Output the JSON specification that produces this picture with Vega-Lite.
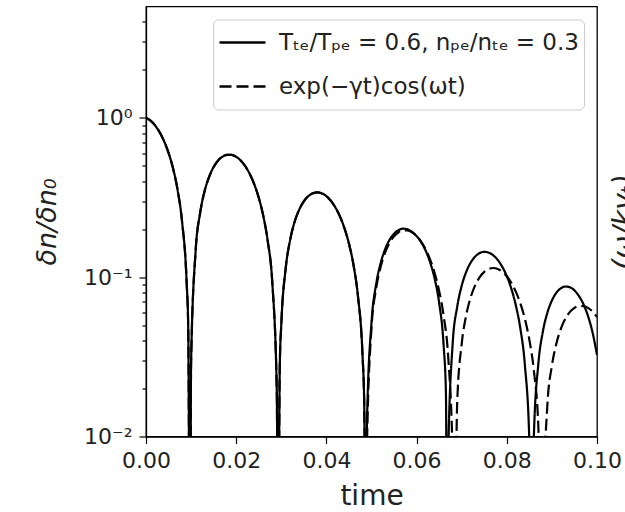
{
  "$schema": "https://vega.github.io/schema/vega-lite/v6.json",
  "width": 451,
  "height": 430,
  "autosize": "none",
  "padding": {"left": 146, "top": 6.5, "right": 28, "bottom": 75.5},
  "background": "white",
  "config": {
    "view": {"stroke": "black", "strokeWidth": 1.3},
    "font": "DejaVu Sans",
    "axis": {"domainColor": "black", "domainWidth": 1.3, "tickColor": "black", "tickWidth": 1.2, "labelColor": "#222", "titleColor": "#222", "labelFont": "DejaVu Sans", "titleFont": "DejaVu Sans", "grid": false, "titleFontWeight": "normal"}
  },
  "data": {"values": [
    {"s":"d","t":0,"v":1},{"s":"d","t":0.001,"v":0.9598},{"s":"d","t":0.002,"v":0.8969},{"s":"d","t":0.003,"v":0.8142},{"s":"d","t":0.004,"v":0.7149},{"s":"d","t":0.005,"v":0.6026},{"s":"d","t":0.006,"v":0.4814},{"s":"d","t":0.007,"v":0.3534},{"s":"d","t":0.008,"v":0.2228},{"s":"d","t":0.009,"v":0.0944},{"s":"d","t":0.00936,"v":0.049},{"s":"d","t":0.00976,"v":0.001},{"s":"d","t":0.010,"v":0.0296},{"s":"d","t":0.011,"v":0.146},{"s":"d","t":0.012,"v":0.2527},{"s":"d","t":0.013,"v":0.3474},{"s":"d","t":0.014,"v":0.4266},{"s":"d","t":0.015,"v":0.4918},{"s":"d","t":0.016,"v":0.5406},{"s":"d","t":0.017,"v":0.5716},{"s":"d","t":0.018,"v":0.5863},{"s":"d","t":0.019,"v":0.5854},{"s":"d","t":0.020,"v":0.5694},{"s":"d","t":0.021,"v":0.5396},{"s":"d","t":0.022,"v":0.4974},{"s":"d","t":0.023,"v":0.4446},{"s":"d","t":0.024,"v":0.3831},{"s":"d","t":0.025,"v":0.3151},{"s":"d","t":0.026,"v":0.2428},{"s":"d","t":0.027,"v":0.1679},{"s":"d","t":0.028,"v":0.0928},{"s":"d","t":0.029,"v":0.0193},{"s":"d","t":0.02927,"v":0.001},{"s":"d","t":0.02967,"v":0.0284},{"s":"d","t":0.030,"v":0.0506},{"s":"d","t":0.031,"v":0.1153},{"s":"d","t":0.032,"v":0.1737},{"s":"d","t":0.033,"v":0.2247},{"s":"d","t":0.034,"v":0.2665},{"s":"d","t":0.035,"v":0.2996},{"s":"d","t":0.036,"v":0.3225},{"s":"d","t":0.037,"v":0.3362},{"s":"d","t":0.038,"v":0.3404},{"s":"d","t":0.039,"v":0.3355},{"s":"d","t":0.040,"v":0.3223},{"s":"d","t":0.041,"v":0.3014},{"s":"d","t":0.042,"v":0.2738},{"s":"d","t":0.043,"v":0.2407},{"s":"d","t":0.044,"v":0.2031},{"s":"d","t":0.045,"v":0.1624},{"s":"d","t":0.046,"v":0.1196},{"s":"d","t":0.047,"v":0.0759},{"s":"d","t":0.048,"v":0.0328},{"s":"d","t":0.04838,"v":0.0164},{"s":"d","t":0.04878,"v":0.001},{"s":"d","t":0.049,"v":0.0089},{"s":"d","t":0.050,"v":0.048},{"s":"d","t":0.051,"v":0.0838},{"s":"d","t":0.052,"v":0.1153},{"s":"d","t":0.053,"v":0.1424},{"s":"d","t":0.054,"v":0.1643},{"s":"d","t":0.055,"v":0.1809},{"s":"d","t":0.056,"v":0.1914},{"s":"d","t":0.057,"v":0.1965},{"s":"d","t":0.058,"v":0.1964},{"s":"d","t":0.059,"v":0.1911},{"s":"d","t":0.060,"v":0.1813},{"s":"d","t":0.061,"v":0.1672},{"s":"d","t":0.062,"v":0.1496},{"s":"d","t":0.063,"v":0.129},{"s":"d","t":0.064,"v":0.1063},{"s":"d","t":0.065,"v":0.082},{"s":"d","t":0.066,"v":0.057},{"s":"d","t":0.067,"v":0.0318},{"s":"d","t":0.068,"v":0.0071},{"s":"d","t":0.0683,"v":0.001},{"s":"d","t":0.069,"v":0.0164},{"s":"d","t":0.070,"v":0.0381},{"s":"d","t":0.071,"v":0.0578},{"s":"d","t":0.072,"v":0.0749},{"s":"d","t":0.073,"v":0.0891},{"s":"d","t":0.074,"v":0.1002},{"s":"d","t":0.075,"v":0.108},{"s":"d","t":0.076,"v":0.1128},{"s":"d","t":0.077,"v":0.1142},{"s":"d","t":0.078,"v":0.1127},{"s":"d","t":0.079,"v":0.1083},{"s":"d","t":0.080,"v":0.1013},{"s":"d","t":0.081,"v":0.0922},{"s":"d","t":0.082,"v":0.0811},{"s":"d","t":0.083,"v":0.0685},{"s":"d","t":0.084,"v":0.0549},{"s":"d","t":0.085,"v":0.0405},{"s":"d","t":0.086,"v":0.0259},{"s":"d","t":0.087,"v":0.0114},{"s":"d","t":0.0878,"v":0.001},{"s":"d","t":0.088,"v":0.0026},{"s":"d","t":0.089,"v":0.0158},{"s":"d","t":0.090,"v":0.0278},{"s":"d","t":0.091,"v":0.0384},{"s":"d","t":0.092,"v":0.0476},{"s":"d","t":0.093,"v":0.055},{"s":"d","t":0.094,"v":0.0606},{"s":"d","t":0.095,"v":0.0642},{"s":"d","t":0.096,"v":0.0659},{"s":"d","t":0.097,"v":0.0659},{"s":"d","t":0.098,"v":0.0642},{"s":"d","t":0.099,"v":0.0609},{"s":"d","t":0.100,"v":0.0562},
    {"s":"s","t":0,"v":1},{"s":"s","t":0.001,"v":0.9598},{"s":"s","t":0.002,"v":0.8969},{"s":"s","t":0.003,"v":0.8142},{"s":"s","t":0.004,"v":0.7149},{"s":"s","t":0.005,"v":0.6026},{"s":"s","t":0.006,"v":0.4814},{"s":"s","t":0.007,"v":0.3534},{"s":"s","t":0.008,"v":0.2228},{"s":"s","t":0.009,"v":0.0944},{"s":"s","t":0.00936,"v":0.049},{"s":"s","t":0.00976,"v":0.001},{"s":"s","t":0.010,"v":0.0296},{"s":"s","t":0.011,"v":0.146},{"s":"s","t":0.012,"v":0.2527},{"s":"s","t":0.013,"v":0.3474},{"s":"s","t":0.014,"v":0.4266},{"s":"s","t":0.015,"v":0.4918},{"s":"s","t":0.016,"v":0.5406},{"s":"s","t":0.017,"v":0.5716},{"s":"s","t":0.018,"v":0.5863},{"s":"s","t":0.019,"v":0.5854},{"s":"s","t":0.020,"v":0.5694},{"s":"s","t":0.021,"v":0.5396},{"s":"s","t":0.022,"v":0.4974},{"s":"s","t":0.023,"v":0.4446},{"s":"s","t":0.024,"v":0.3831},{"s":"s","t":0.025,"v":0.3151},{"s":"s","t":0.026,"v":0.2428},{"s":"s","t":0.027,"v":0.1679},{"s":"s","t":0.028,"v":0.0928},{"s":"s","t":0.029,"v":0.0193},{"s":"s","t":0.02927,"v":0.001},{"s":"s","t":0.02967,"v":0.0284},{"s":"s","t":0.030,"v":0.0506},{"s":"s","t":0.031,"v":0.1153},{"s":"s","t":0.032,"v":0.1737},{"s":"s","t":0.033,"v":0.2247},{"s":"s","t":0.034,"v":0.2665},{"s":"s","t":0.035,"v":0.2996},{"s":"s","t":0.036,"v":0.3225},{"s":"s","t":0.037,"v":0.3362},{"s":"s","t":0.038,"v":0.3404},{"s":"s","t":0.039,"v":0.3355},{"s":"s","t":0.040,"v":0.3223},{"s":"s","t":0.041,"v":0.3014},{"s":"s","t":0.042,"v":0.2738},{"s":"s","t":0.043,"v":0.2407},{"s":"s","t":0.044,"v":0.2031},{"s":"s","t":0.045,"v":0.1624},{"s":"s","t":0.046,"v":0.1196},{"s":"s","t":0.047,"v":0.0759},{"s":"s","t":0.048,"v":0.0328},{"s":"s","t":0.04838,"v":0.0164},{"s":"s","t":0.04878,"v":0.001},{"s":"s","t":0.049,"v":0.0125},{"s":"s","t":0.050,"v":0.052},{"s":"s","t":0.051,"v":0.0895},{"s":"s","t":0.052,"v":0.1215},{"s":"s","t":0.053,"v":0.1495},{"s":"s","t":0.054,"v":0.1715},{"s":"s","t":0.055,"v":0.1875},{"s":"s","t":0.056,"v":0.1975},{"s":"s","t":0.057,"v":0.2015},{"s":"s","t":0.058,"v":0.1995},{"s":"s","t":0.059,"v":0.1925},{"s":"s","t":0.060,"v":0.181},{"s":"s","t":0.061,"v":0.166},{"s":"s","t":0.062,"v":0.147},{"s":"s","t":0.063,"v":0.124},{"s":"s","t":0.064,"v":0.098},{"s":"s","t":0.065,"v":0.069},{"s":"s","t":0.066,"v":0.037},{"s":"s","t":0.0665,"v":0.019},{"s":"s","t":0.0668,"v":0.001},{"s":"s","t":0.067,"v":0.0075},{"s":"s","t":0.068,"v":0.0383},{"s":"s","t":0.069,"v":0.0651},{"s":"s","t":0.070,"v":0.0883},{"s":"s","t":0.071,"v":0.108},{"s":"s","t":0.072,"v":0.1236},{"s":"s","t":0.073,"v":0.1348},{"s":"s","t":0.074,"v":0.1417},{"s":"s","t":0.075,"v":0.1443},{"s":"s","t":0.076,"v":0.1425},{"s":"s","t":0.077,"v":0.1371},{"s":"s","t":0.078,"v":0.1282},{"s":"s","t":0.079,"v":0.1161},{"s":"s","t":0.080,"v":0.1015},{"s":"s","t":0.081,"v":0.0848},{"s":"s","t":0.082,"v":0.0666},{"s":"s","t":0.083,"v":0.0477},{"s":"s","t":0.084,"v":0.0283},{"s":"s","t":0.085,"v":0.0093},{"s":"s","t":0.0855,"v":0.001},{"s":"s","t":0.086,"v":0.01},{"s":"s","t":0.087,"v":0.0287},{"s":"s","t":0.088,"v":0.0456},{"s":"s","t":0.089,"v":0.0599},{"s":"s","t":0.090,"v":0.0714},{"s":"s","t":0.091,"v":0.08},{"s":"s","t":0.092,"v":0.0852},{"s":"s","t":0.093,"v":0.0874},{"s":"s","t":0.094,"v":0.0864},{"s":"s","t":0.095,"v":0.0826},{"s":"s","t":0.096,"v":0.0761},{"s":"s","t":0.097,"v":0.0676},{"s":"s","t":0.098,"v":0.0571},{"s":"s","t":0.099,"v":0.0452},{"s":"s","t":0.100,"v":0.0325}
  ]},
  "encoding": {
    "x": {"field": "t", "type": "quantitative", "scale": {"domain": [0, 0.1], "nice": false, "zero": false},
          "axis": {"values": [0, 0.02, 0.04, 0.06, 0.08, 0.1], "format": ".2f", "labelFontSize": 22, "tickSize": 7, "labelPadding": 7, "labelFlush": false, "title": "time", "titleFontSize": 28, "titlePadding": 11}}
  },
  "layer": [
    {
      "mark": {"type": "line", "clip": true, "strokeWidth": 2.2, "color": "black", "interpolate": "monotone"},
      "encoding": {
        "y": {"field": "v", "type": "quantitative", "scale": {"type": "log", "domain": [0.01, 5], "nice": false},
              "axis": {"orient": "left", "values": [0.01, 0.1, 1], "labelExpr": "datum.value > 0.5 ? '10⁰' : datum.value > 0.05 ? '10⁻¹' : '10⁻²'", "labelFontSize": 22, "tickSize": 7, "labelPadding": 7, "title": "δn/δn₀", "titleFontSize": 27, "titleFontStyle": "italic", "titlePadding": 22}},
        "strokeDash": {"field": "s", "type": "nominal", "scale": {"domain": ["s", "d"], "range": [[1, 0], [12, 5]]},
              "legend": {"orient": "top-right", "offset": 13, "title": null, "symbolType": "stroke", "symbolSize": 2116, "clipHeight": 36, "symbolStrokeWidth": 2.3, "symbolStrokeColor": "black", "labelFontSize": 23, "labelColor": "#222", "labelOffset": 12, "labelLimit": 500, "fillColor": "white", "strokeColor": "#cccccc", "cornerRadius": 5, "padding": 5, "rowPadding": 8,
                         "labelExpr": "datum.value == 's' ? 'Tₜₑ/Tₚₑ = 0.6, nₚₑ/nₜₑ = 0.3' : 'exp(−γt)cos(ωt)'"}}
      }
    },
    {
      "mark": {"type": "line", "opacity": 0},
      "encoding": {
        "y": {"field": "v", "type": "quantitative",
              "axis": {"orient": "left", "values": [0.02, 0.03, 0.04, 0.05, 0.06, 0.07, 0.08, 0.09, 0.2, 0.3, 0.4, 0.5, 0.6, 0.7, 0.8, 0.9, 2, 3, 4], "labels": false, "tickSize": 4, "domain": false, "title": null}}
      }
    },
    {
      "mark": {"type": "line", "opacity": 0},
      "encoding": {
        "y": {"field": "v", "type": "quantitative",
              "axis": {"orient": "right", "labels": false, "ticks": false, "domain": false, "title": "(ω/kvₜ)", "titleFontSize": 28, "titleFontStyle": "italic", "titleAngle": 270, "titleBaseline": "alphabetic", "titlePadding": 35}}
      }
    }
  ],
  "resolve": {"axis": {"y": "independent"}}
}
